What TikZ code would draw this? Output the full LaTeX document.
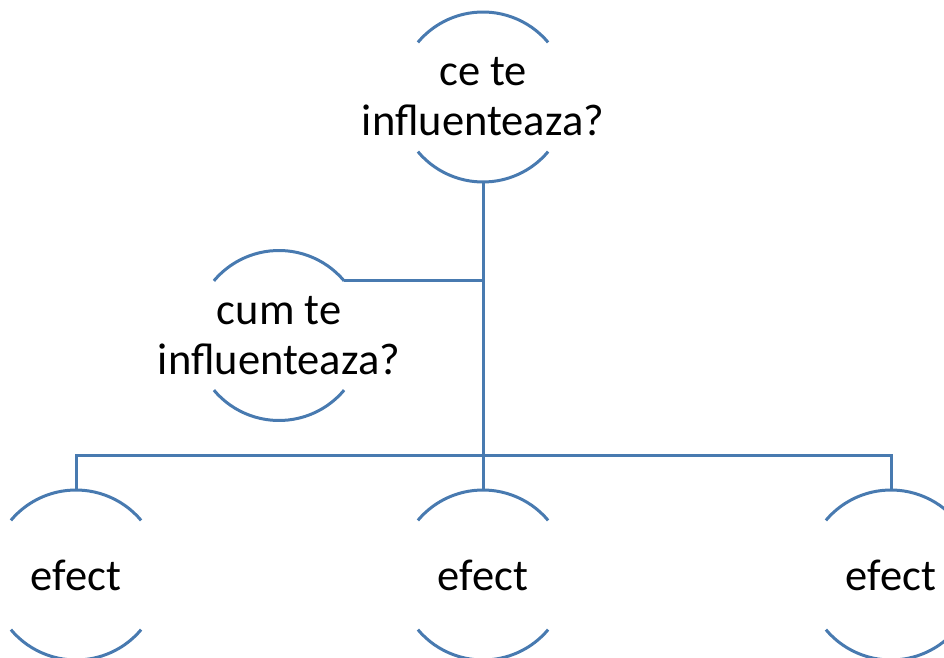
\documentclass[tikz,border=0pt]{standalone}
\usepackage{fontspec}
\setmainfont{Carlito}
\definecolor{ringblue}{RGB}{72,122,176}
\tikzstyle{question}=[inner sep=0pt, align=center, font=\fontsize{44.5}{50}\selectfont]
\tikzstyle{ring}=[draw=ringblue, line width=3pt]
\tikzstyle{branch}=[draw=ringblue, line width=3pt]

\begin{document}
\begin{tikzpicture}[x=1pt, y=1pt]
      \useasboundingbox (0, 0) rectangle (944, 657);
      \clip (0, 0) rectangle (944, 657);
      \node[question] (top) at (483, 560) {ce te\\influenteaza?};
      \node[question] (how) at (279, 321.5) {cum te\\influenteaza?};
      \node[question] (e1) at (76, 82) {efect};
      \node[question] (e2) at (483, 82) {efect};
      \node[question] (e3) at (891, 82) {efect};
      \coordinate (split) at (483, 202);
      % half rings round each question, radius 85
      \foreach \n in {top, how, e1, e2, e3} {
        \path (\n.center) ++(0, 85) coordinate (\n-n)
              (\n.center) ++(0, -85) coordinate (\n-s)
              (\n.center) ++(40:85) coordinate (\n-ne);
        \draw[ring] (\n.center) ++(40:85) arc[start angle=40, end angle=140, radius=85];
        \draw[ring] (\n.center) ++(220:85) arc[start angle=220, end angle=320, radius=85];
      }
      \draw[branch] (top-s)
        to (e2-n);
      \draw[branch] (how-ne)
        to (how-ne -| top-s);
      \draw[branch] (e1-n) |- (split) -| (e3-n);
    \end{tikzpicture}
\end{document}
